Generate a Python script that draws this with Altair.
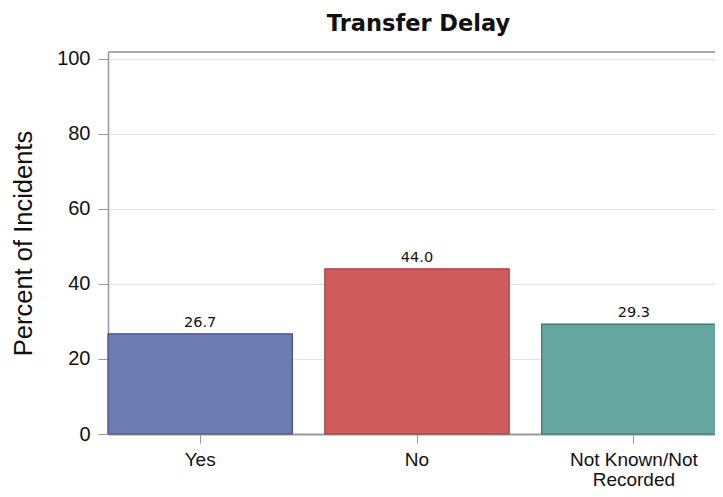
import altair as alt
import pandas as pd

categories = ["Yes", "No", "Not Known/Not Recorded"]
percents = [26.7, 44.0, 29.3]
fills = ["#6e7db1", "#d05c5c", "#66a6a0"]
strokes = ["#3e4f8c", "#a33a3a", "#2a7a70"]
y_ticks = [0, 20, 40, 60, 80, 100]

df = pd.DataFrame({"category": categories, "percent": percents})

W, H = 607, 382
x_scale = alt.Scale(domain=categories, range=[0, 618], paddingInner=0.15, paddingOuter=0)
y_scale = alt.Scale(domain=[0, 101.8], nice=False, zero=True)

label_expr = ("datum.value == 'Not Known/Not Recorded' ? ['Not Known/Not', 'Recorded'] : datum.value")

base = alt.Chart(df)

bars = base.mark_bar(strokeWidth=1.2).encode(
    x=alt.X("category:N", scale=x_scale, sort=categories,
            axis=alt.Axis(title=None, labelAngle=0, labelExpr=label_expr,
                          labelFont="Liberation Sans", labelFontSize=19, labelColor="#111",
                          labelPadding=7.5, tickSize=9, tickColor="#999", domainColor="#999",
                          domainWidth=2, grid=False, labelLineHeight=19.5)),
    y=alt.Y("percent:Q", scale=y_scale,
            axis=alt.Axis(title="Percent of Incidents", values=y_ticks,
                          titleFont="Liberation Sans", titleFontSize=25.5, titleFontWeight="normal",
                          titleColor="#111", titlePadding=20,
                          labelFont="Liberation Sans", labelFontSize=20, labelColor="#111",
                          labelPadding=8, tickSize=10, tickColor="#999",
                          domainColor="#999", domainWidth=1.5,
                          grid=True, gridColor="#e4e4e4", gridWidth=1)),
    fill=alt.Fill("category:N", scale=alt.Scale(domain=categories, range=fills), legend=None),
    stroke=alt.Stroke("category:N", scale=alt.Scale(domain=categories, range=strokes), legend=None),
)

texts = base.mark_text(dy=-11, font="DejaVu Sans", fontSize=14.5, color="#111").encode(
    x=alt.X("category:N", scale=x_scale, sort=categories),
    y=alt.Y("percent:Q", scale=y_scale),
    text=alt.Text("percent:Q", format=".1f"),
)

top_frame = base.mark_rule(color="#aaaaaa", strokeWidth=2).encode(y=alt.value(0))

chart = alt.layer(bars, texts, top_frame).properties(
    width=W, height=H,
    title=alt.TitleParams("Transfer Delay", font="DejaVu Sans", fontSize=22.5, fontWeight="bold",
                          color="#111", anchor="middle", offset=13.5, dx=7),
    autosize=alt.AutoSizeParams(type="none"),
    padding={"left": 100, "top": 44, "right": 0, "bottom": 55},
).configure_view(stroke=None)

chart.save("out.html", embed_options={"renderer": "svg", "actions": False})
